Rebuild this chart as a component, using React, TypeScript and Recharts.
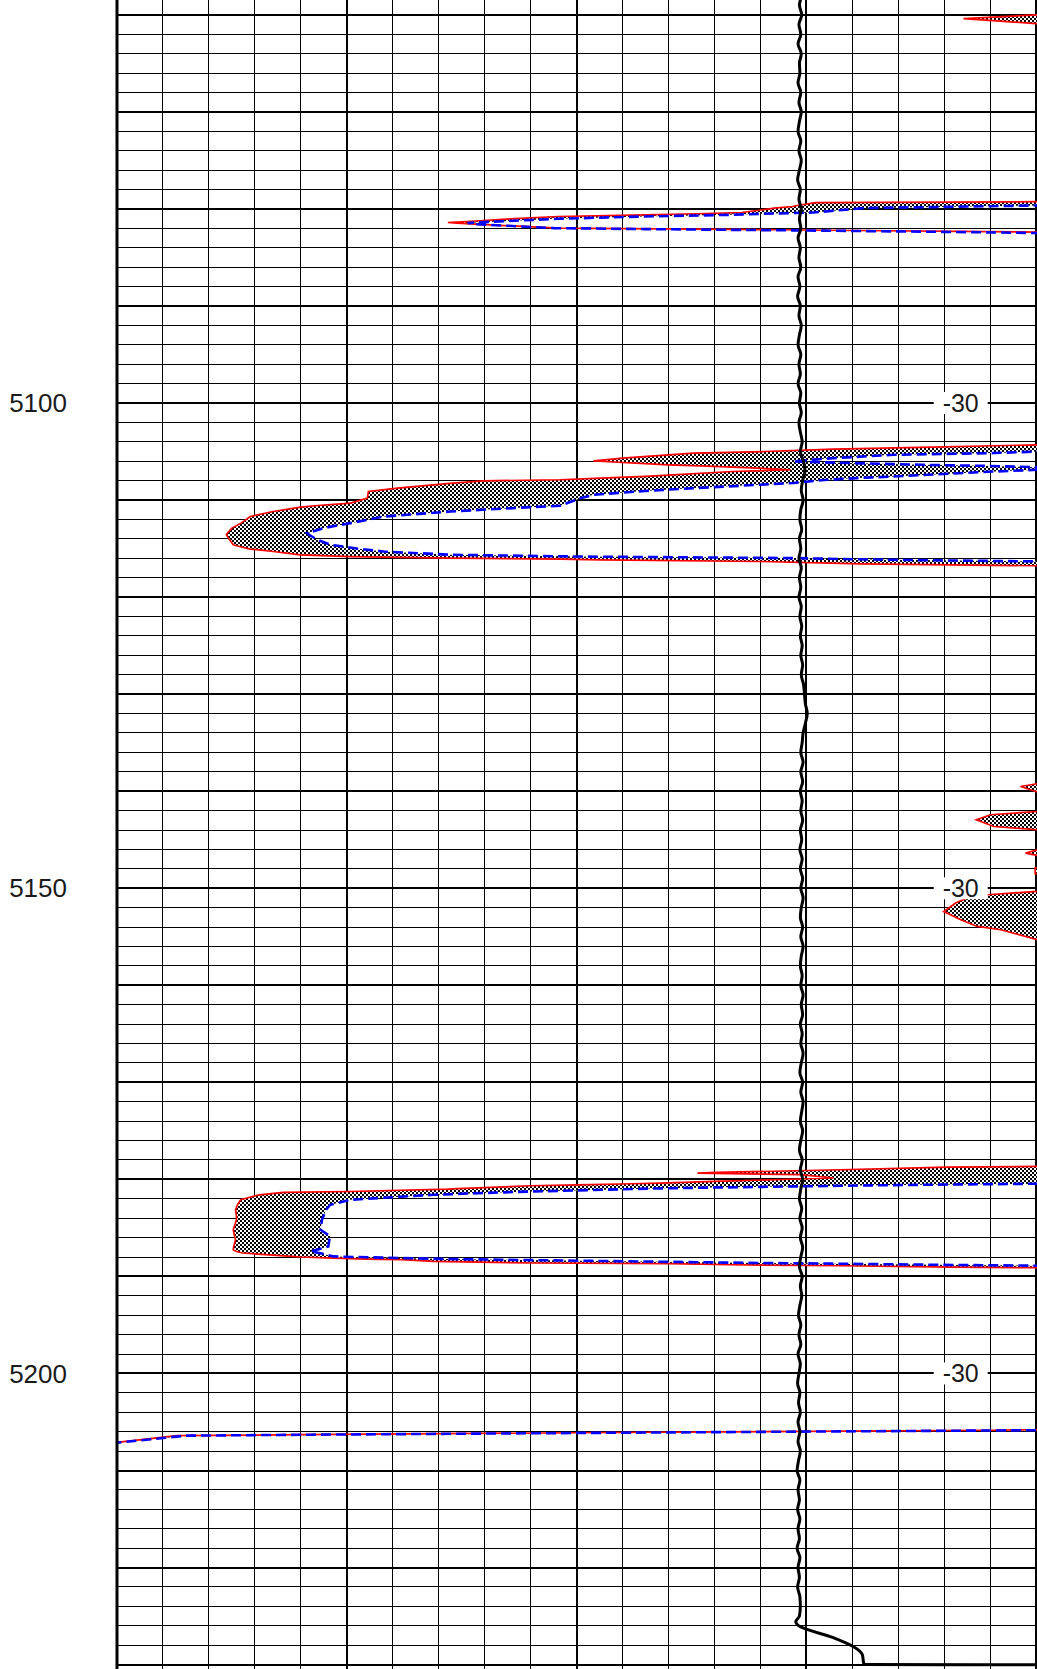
import React from "react";
import {
  ComposedChart,
  XAxis,
  YAxis,
  CartesianGrid,
  Line,
  Area,
  ReferenceLine,
  ReferenceDot,
} from "recharts";

// depth window (ft) and track scale (grid divisions)
const depthTop = 5056;
const depthBottom = 5232;
const trackMin = 0;
const trackMax = 22;

const depthLabels = [5100, 5150, 5200];
const scaleLabelDepths = [5100, 5150, 5200];
const scaleLabelText = "-30";
const scaleLabelPos = 18.36;

// black curve, one sample per foot from 5056
const spStart = 5056;
const spValues = [
  14.87, 14.83, 14.89, 14.85, 14.9, 14.84, 14.88, 14.82, 14.89, 14.85,
  14.86, 14.82, 14.88, 14.84, 14.89, 14.85, 14.82, 14.88, 14.84, 14.89,
  14.85, 14.81, 14.87, 14.84, 14.89, 14.85, 14.88, 14.82, 14.87, 14.84,
  14.88, 14.82, 14.86, 14.81, 14.87, 14.84, 14.89, 14.85, 14.82, 14.88,
  14.84, 14.87, 14.82, 14.88, 14.85, 14.89, 14.84, 14.87, 14.91, 14.87,
  14.94, 14.97, 14.92, 14.89, 14.93, 14.88, 14.86, 14.9, 14.85, 14.88,
  14.84, 14.89, 14.85, 14.88, 14.84, 14.89, 14.86, 14.9, 14.87, 14.91,
  14.88, 14.92, 14.89, 14.94, 14.96, 14.98, 15.02, 14.98, 14.93, 14.91,
  14.88, 14.93, 14.88, 14.92, 14.87, 14.91, 14.88, 14.92, 14.87, 14.9,
  14.86, 14.91, 14.87, 14.92, 14.88, 14.93, 14.89, 14.87, 14.92, 14.88,
  14.93, 14.89, 14.87, 14.91, 14.88, 14.93, 14.89, 14.92, 14.87, 14.91,
  14.88, 14.93, 14.89, 14.86, 14.92, 14.88, 14.93, 14.9, 14.87, 14.92,
  14.88, 14.85, 14.91, 14.87, 14.92, 14.88, 14.85, 14.9, 14.86, 14.91,
  14.87, 14.92, 14.88, 14.85, 14.91, 14.87, 14.9, 14.86, 14.83, 14.88,
  14.84, 14.88, 14.82, 14.87, 14.84, 14.81, 14.86, 14.83, 14.87, 14.82,
  14.86, 14.82, 14.87, 14.83, 14.8, 14.86, 14.82, 14.85, 14.81, 14.86,
  14.82, 14.85, 14.8, 14.86, 14.82, 14.85, 14.81, 14.86, 14.87, 14.85,
];
const spTailDepth = [5225.58, 5225.99, 5227.23, 5228.16, 5228.98, 5229.91, 5230.0, 5230.03, 5232];
const spTailValues = [14.77, 14.83, 15.59, 16.03, 16.22, 16.25, 16.3, 21.5, 21.5];

// red (solid) and blue (dashed) curves, read at the same depths
const depthFt = [
  5056, 5059.6, 5060.0, 5060.4, 5060.9, 5061.3,
  5079.0, 5079.25, 5079.35, 5079.65, 5079.75, 5079.92, 5080.37, 5080.5, 5080.61, 5080.78, 5081.02,
  5081.22, 5081.4, 5081.46, 5081.57, 5081.98, 5082.08, 5082.15, 5082.2, 5082.39, 5082.49, 5082.7,
  5104.0, 5104.31, 5104.6, 5104.75, 5105.0, 5105.16, 5105.34, 5105.68, 5105.96, 5106.03,
  5106.37, 5106.47, 5106.68, 5106.88, 5107.06, 5107.57, 5107.74, 5107.91, 5108.02, 5108.25,
  5108.77, 5109.12, 5109.46, 5109.8, 5110.31, 5110.59, 5110.73, 5111.18, 5111.7, 5112.38,
  5112.89, 5113.41, 5113.58, 5114.1, 5114.61, 5114.71, 5115.05, 5115.3, 5115.64, 5115.82,
  5115.98, 5116.08, 5116.16, 5116.33, 5116.57, 5116.77, 5117.0,
  5138.9, 5139.17, 5139.52, 5140.19, 5140.4, 5141.8, 5142.09, 5142.43, 5142.95, 5143.64,
  5143.98, 5144.2, 5145.8, 5146.04, 5146.38, 5146.63, 5146.9, 5147.6, 5147.9, 5148.5,
  5148.8, 5150.1, 5150.33, 5150.67, 5150.85, 5151.53, 5152.4, 5153.25, 5153.94, 5154.28,
  5155.31, 5155.6,
  5178.4, 5178.67, 5178.73, 5179.01, 5179.29, 5179.35, 5179.52, 5179.86, 5180.04, 5180.2,
  5180.38, 5180.45, 5180.56, 5180.66, 5180.85, 5180.95, 5181.0, 5181.25, 5181.35, 5181.59,
  5182.1, 5182.62, 5183.13, 5183.82, 5184.16, 5185.19, 5185.88, 5186.22, 5186.91, 5187.25,
  5187.43, 5187.59, 5187.94, 5188.0, 5188.11, 5188.21, 5188.28, 5188.46, 5188.62, 5188.69,
  5188.8, 5188.9, 5189.04, 5189.1, 5189.4,
  5205.5, 5205.8, 5205.85, 5206.11, 5206.31, 5206.41, 5207.11, 5207.5, 5232,
];
const redCurve = [
  21.5, 21.5, 20.0, 18.42, 20.0, 21.5,
  21.5, 20.5, 15.2, 14.8, 14.7, 14.3, 13.6, 12.6, 11.5, 9.6, 8.55,
  7.9, 7.2, 7.4, 7.8, 9.6, 12.6, 14.4, 15.4, 20.0, 21.2, 21.5,
  21.5, 20.03, 17.2, 15.59, 14.1, 12.55, 12.0, 11.0, 10.37, 10.6,
  12.0, 12.7, 13.8, 14.66, 13.4, 11.5, 10.52, 9.65, 7.97, 7.3,
  6.1, 5.47, 5.46, 5.45, 5.08, 4.3, 3.99, 3.4, 2.9, 2.7,
  2.5, 2.4, 2.38, 2.45, 2.53, 2.6, 2.9, 3.4, 3.99, 5.08,
  7.26, 9.65, 10.52, 14.0, 16.18, 20.03, 21.5,
  21.5, 20.1, 19.66, 20.1, 21.5, 21.5, 20.03, 19.01, 18.7, 19.08,
  20.03, 21.5, 21.5, 20.03, 19.77, 20.03, 21.5, 21.5, 19.98, 19.98,
  21.5, 21.5, 20.03, 18.94, 18.57, 18.25, 17.99, 18.36, 18.72, 19.23,
  20.03, 21.5,
  21.5, 20.03, 18.07, 15.74, 13.05, 12.63, 14.87, 15.59, 14.29, 13.0,
  11.8, 11.2, 10.02, 9.0, 8.0, 7.4, 7.2, 5.08, 3.62, 3.1,
  2.69, 2.62, 2.58, 2.6, 2.6, 2.53, 2.56, 2.58, 2.54, 2.53,
  2.6, 2.73, 3.8, 3.99, 4.7, 5.45, 6.2, 6.89, 9.06, 12.0,
  13.35, 15.74, 18.14, 20.03, 21.5,
  21.5, 20.03, 19.0, 10.0, 4.0, 1.3, 0.0, -1.0, -1.0,
];
const blueCurve = [
  21.5, 21.5, 21.5, 21.5, 21.5, 21.5,
  21.5, 21.2, 21.0, 20.0, 18.5, 16.24, 15.16, 14.07, 13.35, 11.46, 9.58,
  8.63, 7.8, 7.63, 7.8, 9.5, 11.5, 13.2, 14.44, 18.5, 20.03, 21.5,
  21.5, 21.5, 21.5, 21.2, 20.03, 19.08, 16.9, 15.59, 14.85, 14.72,
  17.5, 18.8, 20.5, 20.03, 19.08, 16.9, 16.1, 15.46, 15.2, 14.72,
  12.55, 11.3, 10.37, 10.1, 9.8, 9.65, 9.0, 7.26, 5.8, 5.08,
  4.49, 4.14, 4.18, 4.36, 4.65, 4.8, 5.3, 5.8, 7.26, 10.0,
  14.72, 15.8, 16.9, 20.03, 21.2, 21.5, 21.5,
  21.5, 21.5, 21.5, 21.5, 21.5, 21.5, 21.5, 21.5, 21.5, 21.5,
  21.5, 21.5, 21.5, 21.5, 21.5, 21.5, 21.5, 21.5, 21.5, 21.5,
  21.5, 21.5, 21.5, 21.5, 21.5, 21.5, 21.5, 21.5, 21.5, 21.5,
  21.5, 21.5,
  21.5, 21.5, 21.5, 21.5, 21.5, 21.5, 21.5, 21.5, 21.5, 21.5,
  21.0, 20.03, 17.5, 15.74, 12.85, 11.61, 11.2, 9.06, 8.3, 6.89,
  5.08, 4.64, 4.55, 4.49, 4.46, 4.43, 4.64, 4.62, 4.6, 4.35,
  4.21, 4.4, 4.71, 5.2, 6.17, 7.3, 8.34, 11.39, 14.0, 15.74,
  17.8, 20.03, 21.0, 21.5, 21.5,
  21.5, 21.0, 20.03, 10.8, 4.2, 1.5, 0.05, -1.0, -1.0,
];

const minorDepthTicks: number[] = [];
for (let d = depthTop; d <= depthBottom; d += 2) minorDepthTicks.push(d);
const majorDepthTicks: number[] = [];
for (let d = 5060; d <= depthBottom; d += 10) majorDepthTicks.push(d);
const minorTrackTicks: number[] = [];
for (let v = trackMin; v <= trackMax; v += 1) minorTrackTicks.push(v);
const majorTrackTicks = [0, 5, 10, 15, 20];

const spData = [
  ...spValues.map((v, i) => ({ depth: spStart + i, sp: v })),
  ...spTailDepth.map((d, i) => ({ depth: d, sp: spTailValues[i] })),
];

const resData = depthFt.map((d, i) => ({
  depth: d,
  red: redCurve[i],
  blue: blueCurve[i],
  band: [redCurve[i], Math.max(redCurve[i], blueCurve[i])],
}));

const FONT = '"Liberation Sans", Arial, Helvetica, sans-serif';

// rows of the depth grid; the depth axis is categorical in vertical layout,
// so the rows are placed along the plot height for the fixed depth window
const depthRows = (ticks: number[]) => ({ offset }: any) =>
  ticks.map((t) => offset.top + ((t - depthTop) / (depthBottom - depthTop)) * offset.height);

const ScaleLabel = (props: any) => {
  const { cx, cy } = props;
  return (
    <g>
      <rect x={cx - 27} y={cy - 11} width={54} height={22} fill="#ffffff" />
      <text
        x={cx}
        y={cy}
        textAnchor="middle"
        dominantBaseline="central"
        fontSize={25}
        fontFamily={FONT}
        fill="#1a1a1a"
      >
        {scaleLabelText}
      </text>
    </g>
  );
};

export default function App() {
  return (
    <div
      style={{
        position: "fixed",
        left: 0,
        top: 0,
        width: 1037,
        height: 1669,
        overflow: "hidden",
        background: "#ffffff",
      }}
    >
      <div style={{ position: "absolute", left: 0, top: -24 }}>
        <ComposedChart
          layout="vertical"
          width={1128}
          height={1708}
          margin={{ top: 0, right: 0, bottom: 0, left: 0 }}
        >
          <defs>
            <pattern id="checker" width="4" height="4" patternUnits="userSpaceOnUse">
              <rect width="4" height="4" fill="#ffffff" />
              <rect width="2" height="2" fill="#000000" />
              <rect x="2" y="2" width="2" height="2" fill="#000000" />
            </pattern>
          </defs>
          <XAxis
            type="number"
            domain={[trackMin, trackMax]}
            ticks={minorTrackTicks}
            allowDataOverflow
            hide
          />
          <XAxis
            xAxisId="major"
            type="number"
            domain={[trackMin, trackMax]}
            ticks={majorTrackTicks}
            allowDataOverflow
            hide
          />
          <YAxis
            type="number"
            dataKey="depth"
            domain={[depthTop, depthBottom]}
            allowDataOverflow
            ticks={depthLabels}
            interval={0}
            width={117}
            axisLine={false}
            tickLine={false}
            tickSize={0}
            tickMargin={50}
            tick={{ fontSize: 26, fill: "#1a1a1a", fontFamily: FONT }}
          />
          <CartesianGrid
            stroke="#000000"
            strokeWidth={1}
            shapeRendering="crispEdges"
            horizontalCoordinatesGenerator={depthRows(minorDepthTicks)}
          />
          <CartesianGrid
            xAxisId="major"
            stroke="#000000"
            strokeWidth={2}
            shapeRendering="crispEdges"
            horizontalCoordinatesGenerator={depthRows(majorDepthTicks)}
          />

          <Area
            data={resData}
            dataKey="band"
            type="linear"
            fill="url(#checker)"
            fillOpacity={1}
            stroke="none"
            activeDot={false}
            isAnimationActive={false}
          />
          <Line
            data={resData}
            dataKey="red"
            type="linear"
            stroke="#ff0000"
            strokeWidth={1.7}
            dot={false}
            activeDot={false}
            isAnimationActive={false}
          />
          <Line
            data={resData}
            dataKey="blue"
            type="linear"
            stroke="#0000ff"
            strokeWidth={2.6}
            strokeDasharray="10 5"
            dot={false}
            activeDot={false}
            isAnimationActive={false}
          />
          <Line
            data={spData}
            dataKey="sp"
            type="monotone"
            stroke="#000000"
            strokeWidth={3}
            dot={false}
            activeDot={false}
            isAnimationActive={false}
          />
          <ReferenceLine x={0} stroke="#000000" strokeWidth={3} />
          {scaleLabelDepths.map((d) => (
            <ReferenceDot key={d} x={scaleLabelPos} y={d} r={0} shape={ScaleLabel} />
          ))}
        </ComposedChart>
      </div>
    </div>
  );
}
